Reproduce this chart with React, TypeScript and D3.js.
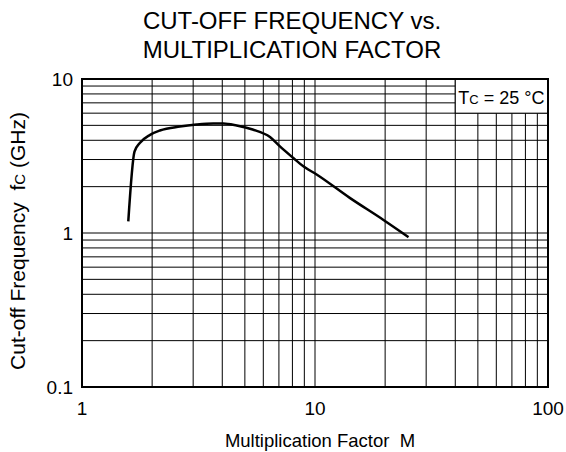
import React from 'react';
import * as d3 from 'd3';

// curve (M, fc in GHz)
const mValues = [1.58, 1.68, 1.77, 1.96, 2.16, 2.63, 3.1, 3.66, 4.04, 4.61, 5.4, 6.41, 7.07, 8.07, 8.91, 10.2, 14.1, 19.6, 25.2];
const fcValues = [1.19, 3.38, 3.84, 4.34, 4.63, 4.91, 5.06, 5.14, 5.14, 4.99, 4.7, 4.2, 3.65, 3.07, 2.71, 2.39, 1.69, 1.22, 0.94];

const xTickLabels = [1, 10, 100];
const yTickLabels = [0.1, 1, 10];
const xDomain = [1, 100];
const yDomain = [0.1, 10];
const legendCorner = [40, 6]; // lower-left of the Tc box in data units

const titleLines = ['CUT-OFF FREQUENCY vs.', 'MULTIPLICATION FACTOR'];

const width = 566;
const height = 452;
const margin = { top: 79, right: 18, bottom: 65, left: 82 };
const font = '"Liberation Sans", Arial, Helvetica, sans-serif';

const App = () => {
    const innerWidth = width - margin.left - margin.right;
    const innerHeight = height - margin.top - margin.bottom;

    const x = d3.scaleLog().domain(xDomain).range([0, innerWidth]);
    const y = d3.scaleLog().domain(yDomain).range([innerHeight, 0]);

    const points = mValues.map((m, i) => [m, fcValues[i]]);
    const line = d3.line()
        .x(d => x(d[0]))
        .y(d => y(d[1]))
        .curve(d3.curveMonotoneX);

    const lx = x(legendCorner[0]);
    const ly = y(yDomain[1]);
    const lw = x(xDomain[1]) - lx;
    const lh = y(legendCorner[1]) - ly;

    return (
        <svg width={width} height={height} style={{ position: 'absolute', left: 0, top: 0, background: '#fff' }}
            fontFamily={font}>
            {/* title */}
            {titleLines.map((t, i) => (
                <text key={t} x={292} y={29 + i * 29} textAnchor="middle" fontSize={24} fill="#000">{t}</text>
            ))}

            <g transform={`translate(${margin.left},${margin.top})`}>
                {/* grid */}
                {x.ticks().map(v => (
                    <line key={'gx' + v} x1={x(v)} x2={x(v)} y1={0} y2={innerHeight} stroke="#000" strokeWidth={1} />
                ))}
                {y.ticks().map(v => (
                    <line key={'gy' + v} x1={0} x2={innerWidth} y1={y(v)} y2={y(v)} stroke="#000" strokeWidth={1} />
                ))}

                {/* Tc box */}
                <rect x={lx} y={ly} width={lw} height={lh} fill="#fff" stroke="#000" strokeWidth={1} />
                <text x={lx + 3} y={ly + 25} fontSize={18} fill="#000" style={{ whiteSpace: 'pre' }}>
                    T<tspan fontSize={13}>C</tspan>{' = 25 °C'}
                </text>

                {/* frame */}
                <rect x={0} y={0} width={innerWidth} height={innerHeight} fill="none" stroke="#000" strokeWidth={2} />

                {/* curve */}
                <path d={line(points)} fill="none" stroke="#000" strokeWidth={2.5} strokeLinejoin="round" strokeLinecap="butt" />

                {/* tick labels */}
                {xTickLabels.map(v => (
                    <text key={'tx' + v} x={x(v)} y={innerHeight + 28} textAnchor="middle" fontSize={19} fill="#000">{v}</text>
                ))}
                {yTickLabels.map(v => (
                    <text key={'ty' + v} x={-9} y={y(v) + 7} textAnchor="end" fontSize={19} fill="#000">{v}</text>
                ))}

                {/* axis titles */}
                <text x={innerWidth / 2 + 5} y={innerHeight + 60} textAnchor="middle" fontSize={18.5} fill="#000"
                    style={{ whiteSpace: 'pre' }}>
                    {'Multiplication Factor  M'}
                </text>
                <text transform={`translate(${-57},${innerHeight / 2 + 8}) rotate(-90)`} textAnchor="middle" fontSize={21} fill="#000"
                    style={{ whiteSpace: 'pre' }}>
                    {'Cut-off Frequency  f'}<tspan fontSize={15}>C</tspan>{' (GHz)'}
                </text>
            </g>
        </svg>
    );
};

export default App;
